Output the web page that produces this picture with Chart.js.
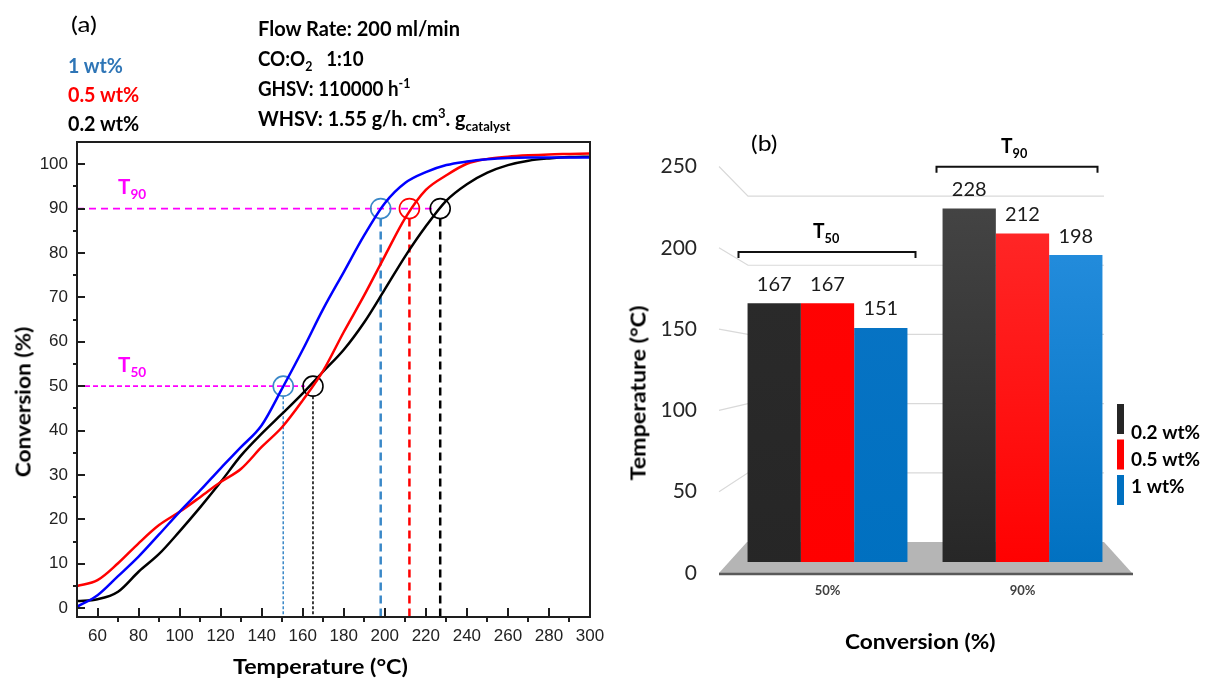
<!DOCTYPE html>
<html>
<head>
<meta charset="utf-8">
<script src="https://cdn.jsdelivr.net/npm/chart.js@4.4.1/dist/chart.umd.min.js"></script>
<style>
  html, body { margin: 0; padding: 0; background: #fff; }
  #stage { position: relative; width: 1208px; height: 678px; overflow: hidden; background: #fff; }
  #stage canvas { position: absolute; left: 0; top: 0; }
  .lbl { position: absolute; white-space: nowrap; line-height: 1; font-family: Lato, "Open Sans", sans-serif; }
  .lbl sub, .lbl sup { font-size: 0.66em; line-height: 0; }
</style>
</head>
<body>
<div id="stage">
  <canvas id="curves" width="1208" height="678"></canvas>
  <canvas id="bars" width="1208" height="678"></canvas>
</div>
<script>
// ---------- (a) CO conversion vs temperature ----------
const temperatures = [50, 60, 70, 80, 90, 100, 110, 120, 130, 140, 150, 160, 170, 180, 190, 200,
                      210, 220, 230, 240, 250, 260, 270, 280, 290, 300];
const conv1wt  = [0.3, 2.9, 7.2, 11.6, 16.6, 21.7, 26.5, 31.5, 36.3, 41.2, 49.5, 58.2, 67.4, 75.7, 84.0, 91.2,
                  95.8, 98.2, 99.8, 100.6, 101.1, 101.4, 101.5, 101.5, 101.5, 101.5];
const conv05wt = [5.0, 6.3, 10.1, 14.6, 18.7, 21.7, 25.0, 28.4, 31.4, 36.3, 40.8, 46.8, 53.5, 62.2, 70.5, 79.3,
                  87.9, 94.2, 97.5, 100.1, 101.2, 101.7, 102.0, 102.2, 102.3, 102.4];
const conv02wt = [1.6, 2.0, 3.7, 8.2, 12.2, 17.3, 22.7, 28.4, 34.4, 39.3, 43.8, 48.4, 53.3, 58.2, 64.4, 71.8,
                  79.3, 86.0, 91.8, 95.5, 98.1, 99.8, 100.8, 101.3, 101.6, 101.7];

// light-off temperatures marked on the curves
const t50Level = 50;
const t90Level = 90;
const t50Temps = [150.5, 165];       // 1 wt%, 0.2 wt%
const t90Temps = [198, 212, 227];    // 1 wt%, 0.5 wt%, 0.2 wt%

// ---------- (b) T50 / T90 bar chart ----------
const conversionLevels = ['50%', '90%'];
const seriesLabels = ['0.2 wt%', '0.5 wt%', '1 wt%'];
const temp02wt = [167, 228];
const temp05wt = [167, 212];
const temp1wt  = [151, 198];
const bracketLevels = [200, 255];    // heights of the T50 / T90 brackets

// ---------------------------------------------------------------
Chart.defaults.font.family = 'Lato';
const stage = document.getElementById('stage');
const pts = (xs, ys) => xs.map((x, i) => ({ x: x, y: ys[i] }));

const steelBlue = '#3a88c8';
const dropColorsT90 = [steelBlue, '#ff0000', '#000000'];
const dropColorsT50 = [steelBlue, '#000000'];
const circleColorsT90 = [steelBlue, '#ff0000', '#000000'];

function curve(label, data, color) {
  return { label: label, data: data, borderColor: color, backgroundColor: color, borderWidth: 2.5,
           pointRadius: 0, cubicInterpolationMode: 'monotone', fill: false };
}
function guide(data, color, dash, width) {
  return { data: data, borderColor: color, borderDash: dash, borderWidth: width, pointRadius: 0,
           fill: false, tension: 0 };
}

const circleR = 10;
const frameAndTicks = {
  id: 'frameAndTicks',
  afterDraw(chart) {
    const { ctx, chartArea: a, scales } = chart;
    const xs = scales.x, ys = scales.y;
    ctx.save();
    ctx.strokeStyle = '#1e1e1e';
    ctx.lineWidth = 2;
    ctx.strokeRect(a.left, a.top, a.right - a.left, a.bottom - a.top);
    ctx.beginPath();
    for (let t = 60; t < 300; t += 20) {          // major, inward
      const px = Math.round(xs.getPixelForValue(t));
      ctx.moveTo(px, a.bottom); ctx.lineTo(px, a.bottom - 9);
    }
    for (let t = 70; t < 300; t += 20) {          // minor, outward
      const px = Math.round(xs.getPixelForValue(t));
      ctx.moveTo(px, a.bottom); ctx.lineTo(px, a.bottom + 5);
    }
    for (let v = 0; v <= 100; v += 10) {          // major, inward
      const py = Math.round(ys.getPixelForValue(v));
      ctx.moveTo(a.left, py); ctx.lineTo(a.left + 8, py);
    }
    for (let v = 5; v < 100; v += 10) {           // minor, outward
      const py = Math.round(ys.getPixelForValue(v));
      ctx.moveTo(a.left, py); ctx.lineTo(a.left - 4, py);
    }
    ctx.stroke();
    ctx.restore();
  }
};

const r = circleR / 4.435;  // circle radius in conversion units (approx)
new Chart(document.getElementById('curves'), {
  type: 'line',
  data: {
    datasets: [
      curve('1 wt%', pts(temperatures, conv1wt), '#0000ff'),
      curve('0.5 wt%', pts(temperatures, conv05wt), '#ff0000'),
      curve('0.2 wt%', pts(temperatures, conv02wt), '#000000'),
      {
        data: t90Temps.map(t => ({ x: t, y: t90Level })).concat(t50Temps.map(t => ({ x: t, y: t50Level }))),
        showLine: false, pointRadius: circleR, pointHoverRadius: circleR, pointBorderWidth: 1.6,
        pointBackgroundColor: 'rgba(0,0,0,0)',
        pointBorderColor: circleColorsT90.concat(dropColorsT50)
      },
      guide([{ x: 50, y: t90Level }, { x: t90Temps[2] - 2, y: t90Level }], '#ff00ff', [7, 5], 1.6),
      guide([{ x: 50, y: t50Level }, { x: t50Temps[1] - 4, y: t50Level }], '#ff00ff', [5, 3], 1.6),
      ...t90Temps.map((t, i) => guide([{ x: t, y: t90Level - r }, { x: t, y: -2 }], dropColorsT90[i], [8, 5], 2.5)),
      ...t50Temps.map((t, i) => guide([{ x: t, y: t50Level - r }, { x: t, y: -2 }], dropColorsT50[i], [3, 2], 1.5))
    ]
  },
  options: {
    responsive: false,
    animation: false,
    devicePixelRatio: 1,
    events: [],
    layout: { padding: { left: 0, top: 142, right: 1208 - 590, bottom: 0 } },
    plugins: { legend: { display: false }, tooltip: { enabled: false } },
    scales: {
      x: {
        type: 'linear', min: 50, max: 300,
        grid: { display: false, drawTicks: false }, border: { display: false },
        ticks: { stepSize: 20, includeBounds: false, padding: 9, autoSkip: false, maxRotation: 0, color: '#222',
                 font: { family: 'Liberation Sans', size: 17 } },
        afterBuildTicks: s => { s.ticks = s.ticks.filter(t => t.value >= 60 && t.value <= 300 && t.value % 20 === 0); },
        afterFit: s => { s.height = 678 - 617; }
      },
      y: {
        min: -2, max: 105,
        grid: { display: false, drawTicks: false }, border: { display: false },
        ticks: { stepSize: 10, includeBounds: false, padding: 9, autoSkip: false, color: '#222',
                 font: { family: 'Liberation Sans', size: 17 } },
        afterBuildTicks: s => { s.ticks = s.ticks.filter(t => t.value >= 0 && t.value <= 100 && t.value % 10 === 0); },
        afterFit: s => { s.width = 77; }
      }
    }
  },
  plugins: [frameAndTicks]
});

// ---------------------------------------------------------------
const seriesColors = ['#262626', '#ff0000', '#0070c0'];
// top / bottom shades of every bar (per series, per conversion level)
const barShades = [
  [['#2c2c2c', '#262626'], ['#474747', '#262626']],
  [['#ff0404', '#ff0000'], ['#ff2d2d', '#ff0000']],
  [['#0b75c6', '#0070c0'], ['#2c93e3', '#0070c0']]
];
function barFill(seriesIdx) {
  return (c) => {
    const chart = c.chart;
    const area = chart.chartArea;
    const shade = barShades[seriesIdx][c.dataIndex || 0];
    if (!area) return shade[1];
    const g = chart.ctx.createLinearGradient(0, area.top, 0, area.bottom);
    g.addColorStop(0, shade[0]);
    g.addColorStop(1, shade[1]);
    return g;
  };
}

const stageDecor = {
  id: 'stageDecor',
  beforeDatasetsDraw(chart) {
    const { ctx, chartArea: a, scales } = chart;
    const ys = scales.y, yb = scales.yb;
    const backY0 = yb.getPixelForValue(0) - 20;
    const depth = 0.851;
    ctx.save();
    // floor
    ctx.fillStyle = '#b5b5b5';
    ctx.beginPath();
    ctx.moveTo(a.left - 11, a.bottom);
    ctx.lineTo(a.left + 17, backY0);
    ctx.lineTo(a.right - 16, backY0);
    ctx.lineTo(a.right + 12, a.bottom);
    ctx.closePath();
    ctx.fill();
    ctx.strokeStyle = '#5a5a5a';
    ctx.lineWidth = 2.5;
    ctx.beginPath();
    ctx.moveTo(a.left - 11, a.bottom + 1);
    ctx.lineTo(a.right + 13, a.bottom + 1);
    ctx.stroke();
    // back wall gridlines
    ctx.strokeStyle = '#d9d9d9';
    ctx.lineWidth = 1.2;
    ctx.beginPath();
    for (let v = 50; v <= 250; v += 50) {
      const yf = ys.getPixelForValue(v);
      const yk = backY0 + (yf - a.bottom) * depth;
      ctx.moveTo(a.left - 11, yf);
      ctx.lineTo(a.left + 18, yk);
      ctx.lineTo(a.right - 16, yk);
    }
    ctx.stroke();
    ctx.restore();
  },
  afterDatasetsDraw(chart) {
    const { ctx } = chart;
    ctx.save();
    ctx.font = '400 20px Lato';
    ctx.fillStyle = '#1a1a1a';
    ctx.textAlign = 'center';
    ctx.textBaseline = 'middle';
    chart.data.datasets.forEach((ds, i) => {
      chart.getDatasetMeta(i).data.forEach((bar, j) => {
        ctx.fillText(String(ds.data[j]), bar.x, bar.y - 19);
      });
    });
    ctx.restore();
  },
  afterDraw(chart) {
    const { ctx, scales } = chart;
    const xs = scales.x, yb = scales.yb;
    ctx.save();
    // brackets over each group
    ctx.strokeStyle = '#111';
    ctx.lineWidth = 2;
    const spans = [[-89, 88], [-86, 75]];
    bracketLevels.forEach((lvl, i) => {
      const cx = xs.getPixelForValue(i);
      const y = yb.getPixelForValue(lvl);
      ctx.beginPath();
      ctx.moveTo(cx + spans[i][0], y + 6);
      ctx.lineTo(cx + spans[i][0], y);
      ctx.lineTo(cx + spans[i][1], y);
      ctx.lineTo(cx + spans[i][1], y + 6);
      ctx.stroke();
    });
    // legend
    ctx.font = '700 19px Lato';
    ctx.textAlign = 'left';
    ctx.textBaseline = 'middle';
    chart.data.datasets.forEach((ds, i) => {
      ctx.fillStyle = seriesColors[i];
      ctx.fillRect(1117, 404 + i * 35.5, 7, 30);
      ctx.fillStyle = '#000';
      ctx.fillText(ds.label, 1131, 433 + i * 26.8);
    });
    ctx.restore();
  }
};

new Chart(document.getElementById('bars'), {
  type: 'bar',
  data: {
    labels: conversionLevels,
    datasets: [
      { label: seriesLabels[0], data: temp02wt, yAxisID: 'yb', backgroundColor: barFill(0) },
      { label: seriesLabels[1], data: temp05wt, yAxisID: 'yb', backgroundColor: barFill(1) },
      { label: seriesLabels[2], data: temp1wt,  yAxisID: 'yb', backgroundColor: barFill(2) }
    ]
  },
  options: {
    responsive: false,
    animation: false,
    devicePixelRatio: 1,
    events: [],
    layout: { padding: { left: 600, top: 166.5, right: 1208 - 1120, bottom: 0 } },
    datasets: { bar: { categoryPercentage: 0.82, barPercentage: 1 } },
    plugins: { legend: { display: false }, tooltip: { enabled: false } },
    scales: {
      x: {
        grid: { display: false, drawTicks: false }, border: { display: false },
        ticks: { padding: 10, color: '#404040', font: { family: 'Lato', size: 13, weight: 'bold' } },
        afterFit: s => { s.height = 678 - 573; }
      },
      y: {
        min: 0, max: 250,
        grid: { display: false, drawTicks: false }, border: { display: false },
        ticks: { stepSize: 50, padding: 33, color: '#262626', font: { family: 'Lato', size: 21 } },
        afterFit: s => { s.width = 130; }
      },
      yb: { display: false, min: -7.1, max: 255.16 }
    }
  },
  plugins: [stageDecor]
});

// ---------------------------------------------------------------
// captions and annotations: font size sets the height, a horizontal
// squeeze brings each line to its width
function addText(html, o) {
  const el = document.createElement('div');
  el.className = 'lbl';
  el.innerHTML = html;
  el.style.fontWeight = o.bold ? '700' : '400';
  el.style.color = o.color || '#000';
  el.style.fontSize = (o.size || 20) + 'px';
  stage.appendChild(el);
  const nat = el.offsetWidth;
  const h = el.offsetHeight;
  const k = o.w ? o.w / nat : 1;
  if (o.rotate) {
    el.style.left = o.x + 'px';
    el.style.top = o.y + 'px';
    el.style.transform = 'translate(-50%, -50%) rotate(-90deg) scaleX(' + k.toFixed(4) + ')';
  } else {
    el.style.transformOrigin = 'left center';
    el.style.transform = 'scaleX(' + k.toFixed(4) + ')';
    const left = o.center ? o.x - nat * k / 2 : o.x;
    el.style.left = left + 'px';
    el.style.top = (o.y - h / 2) + 'px';
  }
}

addText('(a)', { x: 71, y: 23, size: 21, w: 26 });
addText('1 wt%', { x: 68, y: 65, size: 20, w: 55, bold: true, color: '#2e75b6' });
addText('0.5 wt%', { x: 68, y: 94, size: 20, w: 71, bold: true, color: '#ff0000' });
addText('0.2 wt%', { x: 68, y: 123, size: 20, w: 71, bold: true });
addText('Flow Rate: 200 ml/min', { x: 258, y: 28, size: 20, w: 202, bold: true });
addText('CO:O<sub>2</sub>&nbsp;&nbsp;&nbsp;1:10', { x: 258, y: 58, size: 20, w: 106, bold: true });
addText('GHSV: 110000 h<sup>-1</sup>', { x: 258, y: 88, size: 20, w: 152, bold: true });
addText('WHSV: 1.55 g/h. cm<sup>3</sup>. g<sub>catalyst</sub>', { x: 258, y: 118, size: 20, w: 252, bold: true });
addText('T<sub>90</sub>', { x: 118, y: 185, size: 21, w: 28.5, bold: true, color: '#ff00ff' });
addText('T<sub>50</sub>', { x: 118, y: 363, size: 21, w: 28.5, bold: true, color: '#ff00ff' });
addText('Temperature (°C)', { x: 233, y: 665, size: 21, w: 175, bold: true });
addText('Conversion (%)', { x: 22, y: 402, size: 21, w: 150, bold: true, rotate: true });

addText('(b)', { x: 751, y: 142, size: 21, w: 26 });
addText('T<sub>50</sub>', { x: 813, y: 230, size: 20, w: 26, bold: true });
addText('T<sub>90</sub>', { x: 1001, y: 145, size: 20, w: 26, bold: true });
addText('Temperature (°C)', { x: 637, y: 393, size: 21, w: 175, bold: true, rotate: true });
addText('Conversion (%)', { x: 920, y: 640, size: 21, w: 150, bold: true, center: true });
</script>
</body>
</html>
